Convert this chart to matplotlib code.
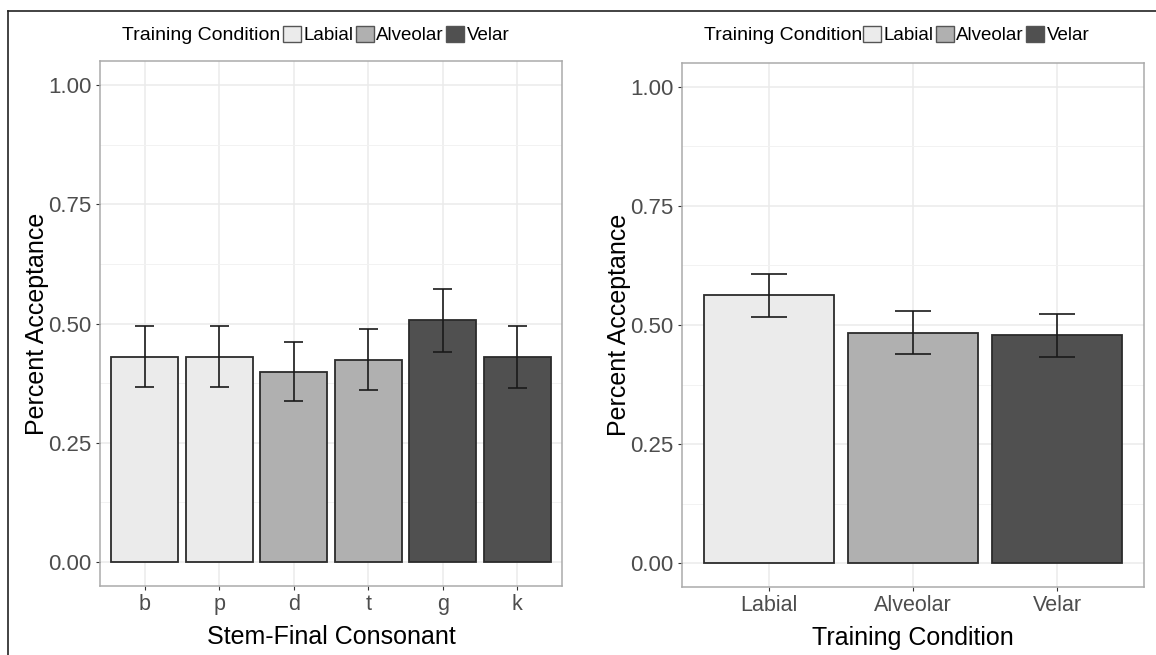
import matplotlib
matplotlib.use("Agg")
from matplotlib import pyplot as plt
from matplotlib.patches import Patch
from matplotlib.lines import Line2D
import numpy as np

plt.rcParams['font.family'] = ['Liberation Sans', 'DejaVu Sans']

# acceptance by stem-final consonant
consonants = ['b', 'p', 'd', 't', 'g', 'k']
consonant_group = ['Labial', 'Labial', 'Alveolar', 'Alveolar', 'Velar', 'Velar']
consonant_mean = [0.430, 0.430, 0.398, 0.423, 0.507, 0.429]
consonant_lo = [0.368, 0.368, 0.337, 0.360, 0.440, 0.365]
consonant_hi = [0.494, 0.494, 0.462, 0.488, 0.572, 0.495]

# acceptance by training condition
conditions = ['Labial', 'Alveolar', 'Velar']
condition_mean = [0.562, 0.483, 0.478]
condition_lo = [0.516, 0.439, 0.433]
condition_hi = [0.608, 0.529, 0.524]

FILLS = {'Labial': '#EBEBEB', 'Alveolar': '#B0B0B0', 'Velar': '#505050'}
W, H = 1156, 655


def px_box(x0, y0, x1, y1):
    # pixel box (top-left origin) -> figure fraction rect
    return [x0 / W, 1 - y1 / H, (x1 - x0) / W, (y1 - y0) / H]


def panel(ax, labels, groups, mean, lo, hi, xlabel):
    x = np.arange(1, len(labels) + 1)
    ax.bar(x, mean, width=0.9, color=[FILLS[g] for g in groups],
           edgecolor='#2B2B2B', linewidth=1.3, zorder=3)
    ax.vlines(x, lo, hi, color='#1A1A1A', linewidth=1.2, zorder=4)
    ax.hlines(lo, x - 0.125, x + 0.125, color='#1A1A1A', linewidth=1.2, zorder=4)
    ax.hlines(hi, x - 0.125, x + 0.125, color='#1A1A1A', linewidth=1.2, zorder=4)

    ax.set_xlim(0.4, len(labels) + 0.6)
    ax.set_ylim(-0.05, 1.05)
    ax.set_xticks(x)
    ax.set_xticklabels(labels)
    ax.set_yticks([0, 0.25, 0.5, 0.75, 1.0])
    ax.set_yticklabels(['0.00', '0.25', '0.50', '0.75', '1.00'])
    ax.set_yticks([0.125, 0.375, 0.625, 0.875], minor=True)
    ax.grid(which='major', color='#EBEBEB', linewidth=1.1, zorder=0)
    ax.grid(which='minor', axis='y', color='#F2F2F2', linewidth=0.7, zorder=0)
    ax.tick_params(which='major', length=3, width=0.8, color='#333333',
                   labelsize=15.5, labelcolor='#4D4D4D', pad=3)
    ax.tick_params(axis='y', labelsize=16)
    ax.tick_params(which='minor', length=0)
    for s in ax.spines.values():
        s.set_color('#ABABAB')
        s.set_linewidth(1.1)
    ax.set_axisbelow(True)
    ax.set_xlabel(xlabel, fontsize=18, labelpad=7)
    ax.set_ylabel('Percent Acceptance', fontsize=18)
    ax.yaxis.set_label_coords(-0.11, 0.5)


def legend(fig, title_x, key_x, y):
    fig.text(title_x / W, 1 - y / H, 'Training Condition', fontsize=14,
             ha='left', va='center')
    handles = [Patch(facecolor=FILLS[c], edgecolor='#555555', linewidth=1.0)
               for c in conditions]
    fig.legend(handles, conditions, loc='center left',
               bbox_to_anchor=(key_x / W, 1 - y / H), ncol=3, frameon=False,
               fontsize=13.5, handlelength=0.95, handleheight=0.95,
               handletextpad=0.12, columnspacing=0.15, borderpad=0,
               borderaxespad=0)


fig = plt.figure(figsize=(W / 100, H / 100), dpi=100)

ax1 = fig.add_axes(px_box(100, 61, 562, 586))
panel(ax1, consonants, consonant_group, consonant_mean, consonant_lo,
      consonant_hi, 'Stem-Final Consonant')

ax2 = fig.add_axes(px_box(682, 63, 1144, 587))
panel(ax2, conditions, conditions, condition_mean, condition_lo,
      condition_hi, 'Training Condition')

legend(fig, 122, 283, 35)
legend(fig, 704, 863, 35)

# outer frame (top and left edges)
fig.add_artist(Line2D([8 / W, 1], [1 - 11 / H, 1 - 11 / H], color='#222222',
                      linewidth=1.2, transform=fig.transFigure))
fig.add_artist(Line2D([8 / W, 8 / W], [0, 1 - 11 / H], color='#222222',
                      linewidth=1.2, transform=fig.transFigure))

fig.savefig('out.png', dpi=100)
